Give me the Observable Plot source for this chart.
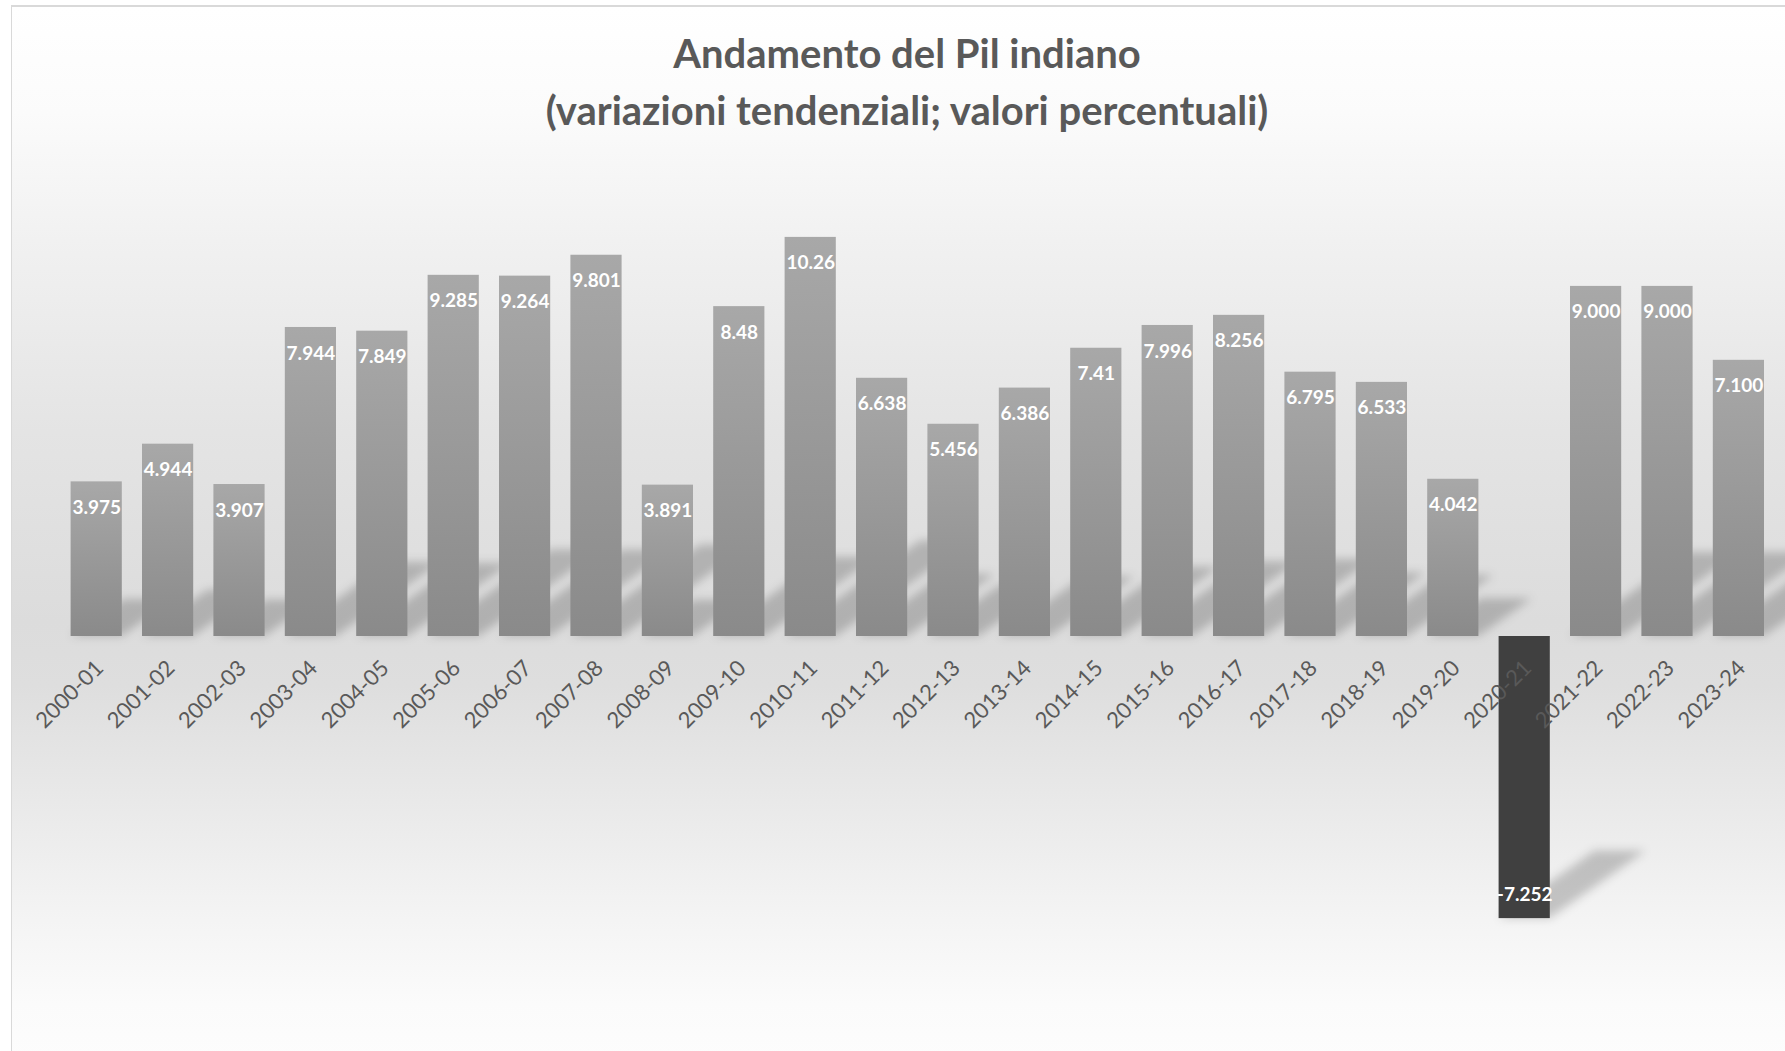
<!DOCTYPE html>
<html>
<head>
<meta charset="utf-8">
<script src="https://cdn.jsdelivr.net/npm/d3@7"></script>
<script src="https://cdn.jsdelivr.net/npm/@observablehq/plot@0.6"></script>
<style>
  html, body { margin: 0; padding: 0; background: #ffffff; }
  body { width: 1785px; height: 1051px; position: relative; overflow: hidden; font-family: Lato, "Open Sans", sans-serif; }
  #frame {
    position: absolute; left: 11px; top: 5px; width: 1790px; height: 1060px;
    border-top: 2px solid #d9d9d9; border-left: 1px solid #d9d9d9;
    background: linear-gradient(to bottom, #ffffff 0%, #fbfbfb 10%, #f1f1f1 22%, #e4e4e4 40%, #dcdcdc 58%, #dedede 64%, #e6e6e6 72%, #f2f2f2 84%, #fbfbfb 94%, #fdfdfd 100%);
  }
  .title { position: absolute; left: 0; width: 1814px; text-align: center; color: #595959; font-weight: bold; font-size: 40px; line-height: 44px; }
  #t1 { top: 31px; }
  #t2 { top: 88px; }
  #chart { position: absolute; left: 0; top: 150px; }
</style>
</head>
<body>
<div id="frame"></div>
<div class="title" id="t1">Andamento del Pil indiano</div>
<div class="title" id="t2">(variazioni tendenziali; valori percentuali)</div>
<div id="chart"></div>
<script>
const categories = ["2000-01","2001-02","2002-03","2003-04","2004-05","2005-06","2006-07","2007-08","2008-09","2009-10","2010-11","2011-12","2012-13","2013-14","2014-15","2015-16","2016-17","2017-18","2018-19","2019-20","2020-21","2021-22","2022-23","2023-24"];
const values = [3.975, 4.944, 3.907, 7.944, 7.849, 9.285, 9.264, 9.801, 3.891, 8.48, 10.26, 6.638, 5.456, 6.386, 7.41, 7.996, 8.256, 6.795, 6.533, 4.042, -7.252, 9.000, 9.000, 7.100];
const labels = ["3.975","4.944","3.907","7.944","7.849","9.285","9.264","9.801","3.891","8.48","10.26","6.638","5.456","6.386","7.41","7.996","8.256","6.795","6.533","4.042","-7.252","9.000","9.000","7.100"];

const data = categories.map((c, i) => ({cat: c, value: values[i], label: labels[i]}));
const pos = data.filter(d => d.value >= 0);
const neg = data.filter(d => d.value < 0);

const chart = Plot.plot({
  width: 1785,
  height: 901,
  marginLeft: 60.5,
  marginRight: 10.9,
  marginTop: 19.2,
  marginBottom: 26,
  style: {background: "transparent", fontFamily: "Lato, 'Open Sans', sans-serif", overflow: "visible"},
  x: {domain: categories, axis: null, paddingInner: 0.283, paddingOuter: 0.1415, align: 0.5, round: false},
  y: {domain: [-10, 12], axis: null},
  marks: [
    Plot.barY(pos, {x: "cat", y: "value", fill: "#000", fillOpacity: 0.2}),
    Plot.barY(neg, {x: "cat", y: "value", fill: "#000", fillOpacity: 0.2}),
    Plot.barY(pos, {x: "cat", y: "value", fill: "url(#barGrad)"}),
    Plot.barY(neg, {x: "cat", y: "value", fill: "#404040"}),
    Plot.text(pos, {x: "cat", y: "value", text: "label", dy: 26, fill: "#ffffff", fontWeight: "bold", fontSize: 19, lineAnchor: "middle"}),
    Plot.text(neg, {x: "cat", y: "value", text: "label", dy: -24, fill: "#ffffff", fontWeight: "bold", fontSize: 19, lineAnchor: "middle"}),
    Plot.text(data, {x: "cat", y: () => 0, text: "cat", rotate: -45, textAnchor: "end", lineAnchor: "middle", dx: 3, dy: 28, fill: "#595959", fontSize: 22})
  ]
});

// defs: gradient for bars, blur for shadows
const svg = d3.select(chart);
const defs = svg.insert("defs", ":first-child");
const grad = defs.append("linearGradient").attr("id", "barGrad").attr("x1", 0).attr("y1", 0).attr("x2", 0).attr("y2", 1);
grad.append("stop").attr("offset", "0%").attr("stop-color", "#a8a8a8");
grad.append("stop").attr("offset", "100%").attr("stop-color", "#8a8a8a");
defs.append("filter").attr("id", "shadowBlur").attr("x", "-20%").attr("y", "-40%").attr("width", "140%").attr("height", "180%")
  .append("feGaussianBlur").attr("stdDeviation", 5);

// perspective shadows (flattened, skewed copies of bars, anchored at each bar's foot), blurred in screen space
const yScale = chart.scale("y");
const k = 0.34, s = 0.24;
const barGroups = chart.querySelectorAll('g[aria-label="bar"]');
function shadow(g, y0) {
  const wrap = document.createElementNS("http://www.w3.org/2000/svg", "g");
  wrap.setAttribute("filter", "url(#shadowBlur)");
  g.parentNode.insertBefore(wrap, g);
  wrap.appendChild(g);
  g.setAttribute("transform", `matrix(1,0,${-k},${s},${k * y0},${(1 - s) * y0})`);
}
shadow(barGroups[0], yScale.apply(0));
shadow(barGroups[1], yScale.apply(d3.min(neg, d => d.value)));

document.getElementById("chart").appendChild(chart);
</script>
</body>
</html>
